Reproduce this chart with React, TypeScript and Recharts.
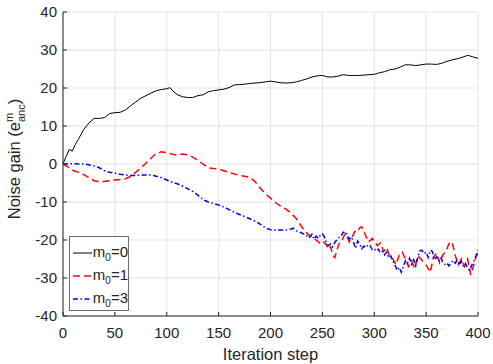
import { CartesianGrid, Legend, Line, LineChart, XAxis, YAxis } from "recharts";

// m0 = 0 (solid black)
const m0Steps = [
  0, 3, 6, 9, 12, 15, 20, 25, 30, 35, 40, 45, 50, 55, 60, 65, 70, 75, 80, 85, 90, 95, 100, 103, 106, 110,
  115, 120, 125, 130, 135, 140, 145, 150, 155, 160, 165, 170, 175, 180, 185, 190, 195, 200, 205, 210, 215,
  220, 225, 230, 235, 240, 245, 250, 255, 260, 265, 270, 275, 280, 285, 290, 295, 300, 305, 310, 315, 320,
  325, 330, 335, 340, 345, 350, 355, 360, 365, 370, 375, 380, 385, 390, 395, 400,
];
const m0Gain = [
  0, 2, 3.8, 3.4, 5.2, 6.6, 9.1, 10.8, 12, 12, 12.2, 13.3, 13.5, 13.6, 14.2, 15.3, 16.3, 17.3, 18, 18.7,
  19.3, 19.6, 19.8, 20.1, 19.2, 18.3, 17.7, 17.5, 17.5, 18, 18.2, 19, 19.3, 19.5, 19.7, 20.1, 20.8, 20.9,
  21, 21.2, 21.3, 21.4, 21.6, 21.8, 21.6, 21.4, 21.3, 21.4, 21.6, 22, 22.4, 22.9, 23.2, 23.3, 22.9, 22.9,
  23.1, 23.5, 23.3, 23.3, 23.3, 23.4, 23.5, 23.6, 24, 24.3, 24.8, 25, 25.5, 26.1, 26.1, 25.9, 26.1, 26.3,
  26.3, 26.2, 26.5, 27, 27.4, 27.7, 28.1, 28.6, 28.2, 27.8,
];

// m0 = 1 (dashed red)
const m1Steps = [
  0, 5, 10, 15, 20, 25, 30, 35, 40, 45, 50, 55, 60, 65, 70, 75, 80, 85, 90, 95, 100, 105, 110, 115, 120,
  125, 130, 135, 140, 145, 150, 155, 160, 165, 170, 175, 180, 185, 190, 195, 200, 205, 210, 215, 220, 225,
  230, 235, 240, 245, 248, 251, 254, 256, 258, 260, 262, 264, 266, 268, 270, 272, 274, 276, 278, 280, 282,
  284, 286, 288, 290, 292, 294, 296, 298, 300, 303, 306, 309, 312, 315, 318, 321, 324, 327, 330, 333, 336,
  339, 342, 345, 348, 351, 354, 357, 360, 363, 366, 369, 372, 375, 378, 381, 384, 387, 390, 393, 396, 398,
  400,
];
const m1Gain = [
  0, -0.8, -1.7, -2.2, -2.8, -3.6, -4.4, -4.7, -4.6, -4.4, -4.2, -4.1, -3.9, -3.3, -2.2, -1, 0.2, 1.6, 2.8,
  3.2, 3, 2.6, 2.3, 2.6, 2.4, 1.8, 1, 0, -1, -1.2, -1.3, -1.8, -2.2, -2.6, -3, -3.2, -3.5, -4.6, -6.3, -7.8,
  -9, -10.2, -11.1, -11.9, -13, -14.4, -16.5, -18.2, -19.3, -20.2, -21, -20.5, -21.3, -22.5, -21.8, -24,
  -24.6, -22.7, -21, -20.5, -19.5, -18.3, -19.2, -20.5, -19.5, -18.5, -17.4, -17.6, -16.8, -16.5, -17.8,
  -19, -20.5, -20.2, -19.6, -20.3, -21.5, -20.8, -23, -22, -24.5, -25, -26.5, -24, -23.2, -25, -27, -25.5,
  -27.5, -24.2, -25, -26, -27, -28.5, -24.5, -23.5, -26, -24, -23, -21, -20.5, -24, -26.5, -25, -27, -25,
  -29.2, -26.5, -24.5, -23.5,
];

// m0 = 3 (dash-dot blue)
const m3Steps = [
  0, 5, 10, 15, 20, 25, 30, 35, 40, 45, 50, 55, 60, 65, 70, 75, 80, 85, 90, 95, 100, 105, 110, 115, 120,
  125, 130, 135, 140, 145, 150, 155, 160, 165, 170, 175, 180, 185, 190, 195, 200, 205, 210, 215, 220, 222,
  225, 228, 231, 234, 237, 240, 242, 244, 246, 248, 250, 252, 254, 256, 258, 260, 262, 264, 266, 268, 270,
  272, 274, 276, 278, 280, 282, 284, 286, 288, 290, 292, 294, 296, 298, 300, 302, 304, 306, 308, 310, 312,
  314, 316, 318, 320, 322, 324, 326, 328, 330, 332, 334, 336, 338, 340, 342, 344, 346, 348, 350, 352, 354,
  356, 358, 360, 362, 364, 366, 368, 370, 372, 374, 376, 378, 380, 382, 384, 386, 388, 390, 392, 394, 396,
  398, 400,
];
const m3Gain = [
  0, 0, 0.1, 0, 0, -0.2, -0.5, -1, -1.8, -2.2, -2.4, -2.7, -2.9, -3, -3, -2.9, -2.9, -2.9, -3.2, -3.6,
  -4.2, -4.8, -5.2, -5.8, -6.5, -7.2, -8.2, -9.4, -10, -10.4, -10.8, -11.3, -12, -12.7, -13.3, -13.8,
  -14.4, -15, -15.8, -16.8, -17.3, -17.4, -17.4, -17.4, -17.1, -16.9, -17.6, -17.9, -18.3, -18.6, -19.5,
  -18.5, -19.8, -19, -19.6, -18.8, -18.4, -19.2, -20.8, -21.5, -21, -21.8, -20.6, -20, -19.3, -19, -18,
  -17.8, -18.6, -19.8, -19.2, -20.5, -22.2, -20.3, -21, -22.3, -21.6, -22, -21.2, -21.5, -22.5, -22.3,
  -22.9, -22.4, -23.4, -23, -23.9, -23.2, -24.7, -24.2, -25.6, -26.5, -28, -27.2, -28.5, -27, -25.5,
  -26.2, -24.8, -26.4, -25.2, -26.8, -24.5, -22.8, -22.7, -23.6, -23.2, -24.6, -22.7, -23, -25.2, -24.4,
  -25.5, -24.6, -25.8, -26.4, -26, -26.8, -26, -25.4, -26.1, -25.3, -26.6, -25.6, -27, -26.2, -27.4, -28,
  -26.6, -25.6, -24.2, -22.6,
];

const xTicks = [0, 50, 100, 150, 200, 250, 300, 350, 400];
const yTicks = [-40, -30, -20, -10, 0, 10, 20, 30, 40];

const FONT = "'Liberation Sans', Arial, Helvetica, sans-serif";
const INK = "#262626";

const zip = (xs: number[], ys: number[]) => xs.map((x, i) => ({ x, y: ys[i] }));

const series = [
  { name: "0", data: zip(m0Steps, m0Gain), color: "#000000", width: 1, dash: undefined },
  { name: "1", data: zip(m1Steps, m1Gain), color: "#ff0000", width: 1.5, dash: "7 4" },
  { name: "3", data: zip(m3Steps, m3Gain), color: "#0000ff", width: 1.5, dash: "5 2.5 1.5 2.5" },
];

const noTick = () => <g />;

function YLabel() {
  return (
    <text
      x={20}
      y={159}
      transform="rotate(-90, 20, 159)"
      textAnchor="middle"
      fill={INK}
      fontSize={16.5}
      fontFamily={FONT}
    >
      Noise gain (e
      <tspan fontSize={11} dy={-7}>m</tspan>
      <tspan fontSize={11} dx={-9.2} dy={12}>anc</tspan>
      <tspan fontSize={16.5} dy={-5}>)</tspan>
    </text>
  );
}

function LegendBox() {
  return (
    <div
      style={{
        width: 60,
        height: 75,
        background: "#fff",
        border: "1px solid #6b6b6b",
        fontFamily: FONT,
        fontSize: 15,
        color: INK,
        boxSizing: "border-box",
        paddingTop: 4,
      }}
    >
      {series.map((s) => (
        <div key={s.name} style={{ display: "flex", alignItems: "center", height: 23 }}>
          <svg width={22} height={10} style={{ marginLeft: 2 }}>
            <line
              x1={1}
              x2={21}
              y1={5}
              y2={5}
              stroke={s.color}
              strokeWidth={s.width}
              strokeDasharray={s.dash}
            />
          </svg>
          <span style={{ marginLeft: 1, whiteSpace: "nowrap" }}>
            m<sub style={{ fontSize: 10, verticalAlign: -4 }}>0</sub>={s.name}
          </span>
        </div>
      ))}
    </div>
  );
}

export default function App() {
  return (
    <div style={{ position: "absolute", left: 0, top: 0, background: "#fff" }}>
      <LineChart
        width={493}
        height={364}
        margin={{ top: 12, right: 15, left: 0, bottom: 0 }}
        style={{ fontFamily: FONT }}
      >
        <CartesianGrid stroke="#e3e3e3" strokeWidth={1} />
        <XAxis
          dataKey="x"
          type="number"
          domain={[0, 400]}
          ticks={xTicks}
          allowDataOverflow
          height={48}
          stroke={INK}
          tickSize={-4}
          tickMargin={15}
          tick={{ fill: INK, fontSize: 15 }}
          label={{ value: "Iteration step", position: "insideBottom", offset: 4, fill: INK, fontSize: 16.5 }}
        />
        <XAxis
          xAxisId="top"
          orientation="top"
          dataKey="x"
          type="number"
          domain={[0, 400]}
          ticks={xTicks}
          allowDataOverflow
          height={0}
          stroke={INK}
          tickSize={-4}
          tick={noTick}
        />
        <YAxis
          type="number"
          domain={[-40, 40]}
          ticks={yTicks}
          allowDataOverflow
          width={63}
          stroke={INK}
          tickSize={-4}
          tickMargin={10}
          tick={{ fill: INK, fontSize: 15 }}
          label={{ content: () => <YLabel /> }}
        />
        <YAxis
          yAxisId="right"
          orientation="right"
          type="number"
          domain={[-40, 40]}
          ticks={yTicks}
          allowDataOverflow
          width={0}
          stroke={INK}
          tickSize={-4}
          tick={noTick}
        />
        {series.map((s) => (
          <Line
            key={s.name}
            data={s.data}
            dataKey="y"
            name={`m0=${s.name}`}
            type="linear"
            stroke={s.color}
            strokeWidth={s.width}
            strokeDasharray={s.dash}
            dot={false}
            isAnimationActive={false}
          />
        ))}
        <Legend
          layout="vertical"
          align="center"
          verticalAlign="middle"
          wrapperStyle={{ left: 69, top: 236, width: 60 }}
          content={() => <LegendBox />}
        />
      </LineChart>
    </div>
  );
}
